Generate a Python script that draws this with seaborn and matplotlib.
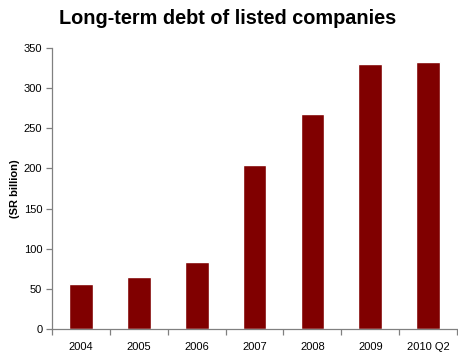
import matplotlib
matplotlib.use("Agg")
import matplotlib.pyplot as plt
import seaborn as sns
import pandas as pd
import numpy as np

periods = ["2004", "2005", "2006", "2007", "2008", "2009", "2010 Q2"]
debt = [56, 65, 83, 204, 268, 330, 332]

sns.set_theme(style="white")
plt.rcParams["font.family"] = ["Liberation Sans", "DejaVu Sans"]
plt.rcParams["text.color"] = "black"
plt.rcParams["xtick.color"] = "black"
plt.rcParams["ytick.color"] = "black"
plt.rcParams["axes.labelcolor"] = "black"

df = pd.DataFrame({"period": periods, "debt": debt})

fig = plt.figure(figsize=(4.58, 3.54), dpi=100)
ax = fig.add_axes([0.1135, 0.0706, 0.8845, 0.7938])
sns.barplot(data=df, x="period", y="debt", color="#800000", width=0.41,
            saturation=1, ax=ax)

ax.set_xlim(-0.5, len(periods) - 0.5)
ax.set_ylim(0, 350)
ax.set_yticks(range(0, 351, 50))
ax.set_xlabel("")
ax.set_ylabel("(SR billion)", fontsize=8, fontweight="bold", labelpad=3)

for side in ["top", "right"]:
    ax.spines[side].set_visible(False)
for side in ["left", "bottom"]:
    ax.spines[side].set_color("#808080")
    ax.spines[side].set_linewidth(0.9)

ax.tick_params(axis="y", which="major", direction="out", length=4, width=0.9,
               color="#808080", labelcolor="black", labelsize=8, pad=3, left=True)
ax.tick_params(axis="x", which="major", length=0, labelsize=8, pad=9,
               labelcolor="black")
ax.set_xticks(np.arange(-0.5, len(periods), 1.0), minor=True)
ax.tick_params(axis="x", which="minor", direction="out", length=4, width=0.9,
               color="#808080", bottom=True)

fig.suptitle("Long-term debt of listed companies", fontsize=14.3, fontweight="bold",
             color="black", x=0.497, y=0.975)

fig.savefig("out.png", dpi=100)
